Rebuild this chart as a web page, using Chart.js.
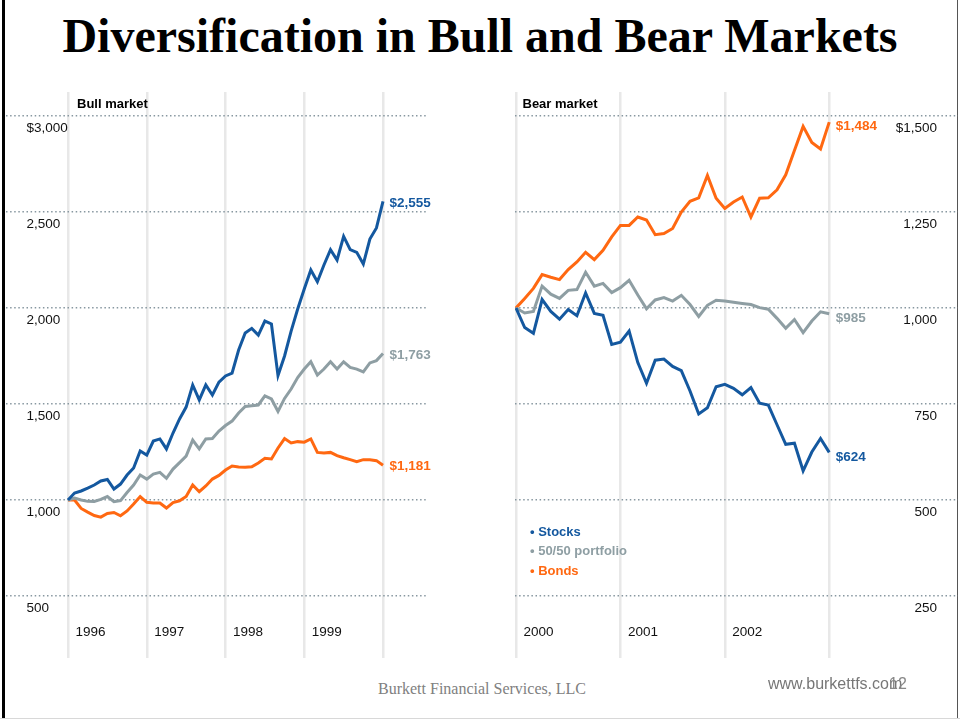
<!DOCTYPE html>
<html>
<head>
<meta charset="utf-8">
<title>Diversification in Bull and Bear Markets</title>
<script src="https://cdn.jsdelivr.net/npm/chart.js@4.4.1/dist/chart.umd.min.js"></script>
<style>
  body { margin: 0; background: #fff; }
  #page { position: relative; width: 960px; height: 721px; overflow: hidden; background: #fff; }
  #title { position: absolute; left: 0; width: 960px; top: 8px; text-align: center;
           font: bold 48px "Liberation Serif", "Times New Roman", serif; color: #000; line-height: 56px; }
  #leftChart { position: absolute; left: 0; top: 80px; }
  #rightChart { position: absolute; left: 480px; top: 80px; }
  .frameL { position: absolute; left: 2px; top: 0; width: 3px; height: 719px; background: #000; }
  .frameR { position: absolute; left: 957px; top: 0; width: 1px; height: 719px; background: #555; }
  .frameB { position: absolute; left: 0; top: 718px; width: 960px; height: 1px; background: #d8d8d8; }
  #firm { position: absolute; left: 378px; top: 680px; font: 16px "Liberation Serif", "Times New Roman", serif; color: #808080; }
  #web { position: absolute; left: 768px; top: 675px; font: 16px "Liberation Sans", Arial, sans-serif; color: #777; }
  #pageNo { position: absolute; left: 889px; top: 675px; font: 16px "Liberation Sans", Arial, sans-serif; color: #888; }
</style>
</head>
<body>
<div id="page">
  <div class="frameL"></div>
  <div class="frameR"></div>
  <div class="frameB"></div>
  <div id="title">Diversification in Bull and Bear Markets</div>
  <canvas id="leftChart" width="480" height="600"></canvas>
  <canvas id="rightChart" width="480" height="600"></canvas>
  <div id="firm">Burkett Financial Services, LLC</div>
  <div id="web">www.burkettfs.com</div>
  <div id="pageNo">12</div>
</div>
<script>
// Bull market 1996-1999, growth of $1,000 (monthly)
const bullYears = ['1996', '1997', '1998', '1999'];
const bullStocks = [1000, 1036, 1047, 1062, 1078, 1099, 1107, 1057, 1083, 1130, 1167, 1255, 1234,
  1307, 1318, 1266, 1349, 1422, 1484, 1599, 1521, 1599, 1547, 1614, 1646,
  1661, 1781, 1870, 1894, 1859, 1932, 1917, 1648, 1750, 1880, 1995, 2099,
  2198, 2137, 2224, 2304, 2250, 2373, 2304, 2290, 2229, 2359, 2417, 2555];
const bullMix = [1000, 1010, 1000, 993, 992, 1003, 1018, 991, 997, 1039, 1078, 1130, 1109,
  1135, 1144, 1113, 1161, 1195, 1229, 1312, 1266, 1318, 1320, 1359, 1388,
  1411, 1453, 1487, 1491, 1495, 1542, 1526, 1461, 1529, 1578, 1638, 1682,
  1720, 1651, 1682, 1720, 1682, 1720, 1691, 1682, 1667, 1714, 1726, 1763];
const bullBonds = [1000, 1000, 956, 937, 919, 911, 930, 935, 918, 943, 979, 1018, 988,
  984, 984, 958, 987, 996, 1018, 1078, 1043, 1073, 1109, 1128, 1156,
  1177, 1172, 1170, 1173, 1193, 1217, 1214, 1271, 1320, 1297, 1304, 1301,
  1318, 1248, 1245, 1248, 1231, 1220, 1210, 1199, 1210, 1210, 1205, 1181];
const bullTicks = [500, 1000, 1500, 2000, 2500, 3000];
const bullTickLabels = ['500', '1,000', '1,500', '2,000', '2,500', '$3,000'];
const bullEndLabels = ['$2,555', '$1,763', '$1,181'];
const bullYearLines = [0, 12, 24, 36, 48];

// Bear market 2000-2002
const bearYears = ['2000', '2001', '2002'];
const bearStocks = [1000, 949, 934, 1022, 991, 971, 996, 980, 1039, 986, 981, 905, 911,
  940, 858, 804, 864, 867, 848, 837, 784, 724, 740, 795, 801,
  791, 774, 793, 752, 747, 696, 645, 648, 576, 625, 660, 624];
const bearMix = [1000, 987, 991, 1057, 1036, 1025, 1046, 1048, 1093, 1057, 1064, 1040, 1053,
  1072, 1034, 998, 1021, 1027, 1018, 1033, 1009, 978, 1007, 1020, 1018,
  1015, 1012, 1009, 1001, 997, 973, 947, 970, 936, 966, 990, 985];
const bearBonds = [1000, 1025, 1051, 1087, 1080, 1074, 1100, 1120, 1145, 1126, 1150, 1185, 1215,
  1215, 1237, 1229, 1191, 1194, 1207, 1250, 1278, 1287, 1345, 1286, 1259,
  1276, 1289, 1237, 1286, 1287, 1308, 1347, 1410, 1473, 1431, 1414, 1484];
const bearTicks = [250, 500, 750, 1000, 1250, 1500];
const bearTickLabels = ['250', '500', '750', '1,000', '1,250', '$1,500'];
const bearEndLabels = ['$624', '$985', '$1,484'];
const bearYearLines = [0, 12, 24, 36];

const seriesNames = ['Stocks', '50/50 portfolio', 'Bonds'];
const seriesColors = ['#14589f', '#8e9ea3', '#ff6811'];

const sans = '"Liberation Sans", Arial, sans-serif';

function points(values) {
  return values.map((v, i) => ({ x: i, y: v }));
}

function makeDatasets(lists) {
  return lists.map((vals, i) => ({
    label: seriesNames[i],
    data: points(vals),
    borderColor: seriesColors[i],
    backgroundColor: seriesColors[i],
    borderWidth: 3,
    pointRadius: 0,
    tension: 0,
    fill: false
  }));
}

// draws tick labels, year labels, end values, panel title and legend
const panelLabels = {
  id: 'panelLabels',
  afterDatasetsDraw(chart, args, opts) {
    const ctx = chart.ctx;
    const xs = chart.scales.x, ys = chart.scales.y;
    const area = chart.chartArea;
    ctx.save();
    ctx.textBaseline = 'middle';
    ctx.font = '13.5px ' + sans;
    ctx.fillStyle = '#111';

    ctx.textAlign = opts.side === 'left' ? 'left' : 'right';
    const tx = opts.side === 'left' ? area.left + 20.5 : area.right - 21;
    opts.ticks.forEach((v, i) => {
      ctx.fillText(opts.tickLabels[i], tx, ys.getPixelForValue(v) + 12.5);
    });

    ctx.textAlign = 'left';
    opts.years.forEach((lab, i) => {
      ctx.fillText(lab, xs.getPixelForValue(opts.yearLines[i]) + 7.5, area.bottom - 25.5);
    });

    ctx.font = 'bold 13.5px ' + sans;
    chart.data.datasets.forEach((ds, i) => {
      const last = ds.data[ds.data.length - 1];
      ctx.fillStyle = ds.borderColor;
      ctx.fillText(opts.endLabels[i], xs.getPixelForValue(last.x) + 6.5, ys.getPixelForValue(last.y) + opts.endShift);
    });

    ctx.font = 'bold 13px ' + sans;
    ctx.fillStyle = '#000';
    ctx.fillText(opts.title, xs.getPixelForValue(0) + opts.titleGap, area.top + 12.5);

    if (opts.legend) {
      ctx.font = 'bold 13px ' + sans;
      chart.data.datasets.forEach((ds, i) => {
        ctx.fillStyle = ds.borderColor;
        ctx.fillText('\u2022 ' + ds.label, opts.legend.x, opts.legend.y + i * 19.4);
      });
    }
    ctx.restore();
  }
};

function makeChart(id, lists, xMin, xMax, yMin, yMax, padding, labels) {
  return new Chart(document.getElementById(id), {
    type: 'line',
    data: { datasets: makeDatasets(lists) },
    plugins: [panelLabels],
    options: {
      responsive: false,
      animation: false,
      layout: { padding: padding },
      plugins: {
        legend: { display: false },
        tooltip: { enabled: false },
        panelLabels: labels
      },
      scales: {
        x: {
          type: 'linear',
          min: xMin,
          max: xMax,
          afterBuildTicks: (scale) => { scale.ticks = labels.yearLines.map(v => ({ value: v })); },
          ticks: { display: false },
          grid: { color: '#e8e8e8', lineWidth: 2.5, drawTicks: false },
          border: { display: false }
        },
        y: {
          type: 'linear',
          min: yMin,
          max: yMax,
          afterBuildTicks: (scale) => { scale.ticks = labels.ticks.map(v => ({ value: v })); },
          ticks: { display: false },
          grid: { color: '#8797a0', lineWidth: 1.5, drawTicks: false },
          border: { display: false, dash: [1.5, 2.6] }
        }
      }
    }
  });
}

makeChart('leftChart', [bullStocks, bullMix, bullBonds],
  -9.448, 54.552, 177.1, 3125,
  { left: 6, right: 54, top: 12, bottom: 22 },
  { side: 'left', ticks: bullTicks, tickLabels: bullTickLabels, years: bullYears,
    yearLines: bullYearLines, endLabels: bullEndLabels, endShift: 1.5,
    title: 'Bull market', titleGap: 9 });

makeChart('rightChart', [bearStocks, bearMix, bearBonds],
  -0.115, 50.8, 88.54, 1562.5,
  { left: 35, right: 2, top: 12, bottom: 22 },
  { side: 'right', ticks: bearTicks, tickLabels: bearTickLabels, years: bearYears,
    yearLines: bearYearLines, endLabels: bearEndLabels, endShift: 4.5,
    title: 'Bear market', titleGap: 6.5, legend: { x: 50, y: 452.5 } });
</script>
</body>
</html>
